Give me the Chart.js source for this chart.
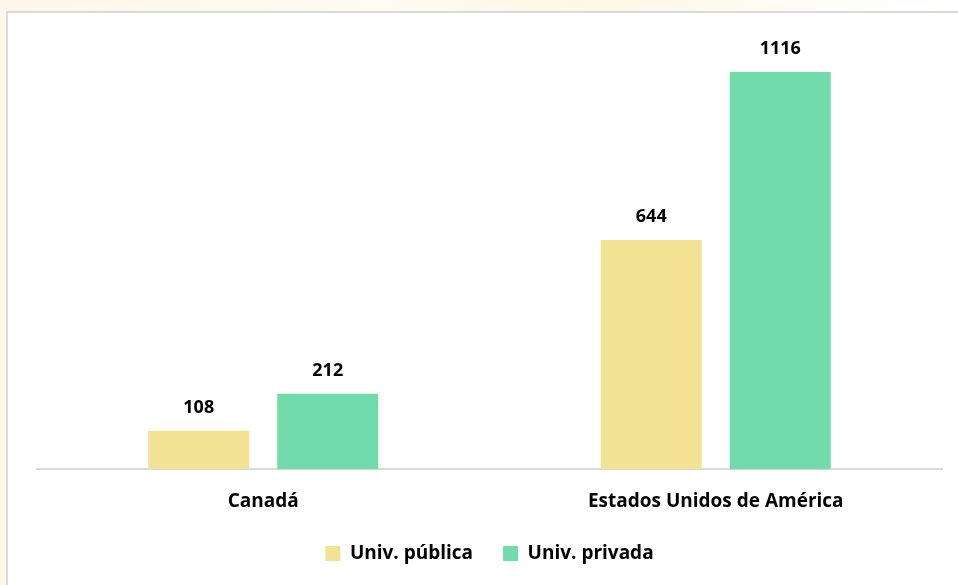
<!DOCTYPE html>
<html lang="es">
<head>
<meta charset="UTF-8" />
<title>Universidades</title>
<script src="https://cdn.jsdelivr.net/npm/chart.js@4.4.1/dist/chart.umd.min.js"></script>
<style>
  html, body { margin: 0; padding: 0; }
  body {
    width: 958px; height: 585px; overflow: hidden; position: relative;
    background: linear-gradient(90deg, #fdf6ea 0%, #fffaf2 40%, #fff7e6 60%, #ffffff 100%);
  }
  .frame {
    position: absolute; left: 6px; top: 11px; width: 1000px; height: 700px;
    background: #fff; border-left: 2px solid #d9d9d9; border-top: 2px solid #d9d9d9;
  }
  #wrap { position: absolute; left: 0; top: 0; width: 958px; height: 585px; }
</style>
</head>
<body>
<div class="frame"></div>
<div id="wrap"><canvas id="myChart"></canvas></div>
<script>
  const paises = ["Canadá", "Estados Unidos de América"];
  const publica = [108, 644];
  const privada = [212, 1116];
  const series = ["Univ. pública", "Univ. privada"];

  // etiquetas de valor encima de cada barra
  const valueLabels = {
    id: "valueLabels",
    afterDatasetsDraw(chart) {
      const ctx = chart.ctx;
      ctx.save();
      ctx.font = "bold 18px 'Open Sans'";
      ctx.fillStyle = "#000";
      ctx.textAlign = "center";
      ctx.textBaseline = "bottom";
      chart.data.datasets.forEach((ds, i) => {
        chart.getDatasetMeta(i).data.forEach((bar, j) => {
          ctx.fillText(ds.data[j], bar.x, bar.y - 14);
        });
      });
      ctx.restore();
    }
  };

  var ctx = document.getElementById("myChart").getContext("2d");
  var chart = new Chart(ctx, {
    type: "bar",
    data: {
      labels: paises,
      datasets: [
        { label: series[0], data: publica, backgroundColor: "#f2e394",
          barPercentage: 0.783, categoryPercentage: 0.57 },
        { label: series[1], data: privada, backgroundColor: "#72dbab",
          barPercentage: 0.783, categoryPercentage: 0.57 }
      ]
    },
    options: {
      responsive: true,
      maintainAspectRatio: false,
      animation: false,
      layout: { padding: { left: 37, right: 16, top: 24, bottom: 12 } },
      scales: {
        x: {
          grid: { display: false },
          border: { display: true, color: "#d9d9d9", width: 2 },
          ticks: { color: "#000", font: { family: "Open Sans", size: 19, weight: "bold" }, padding: 13 },
          afterFit: (scale) => { scale.height -= 12; }
        },
        y: { display: false, min: 0, max: 1251 }
      },
      plugins: {
        legend: {
          position: "bottom",
          labels: {
            color: "#000", boxWidth: 15, boxHeight: 15, padding: 30,
            font: { family: "Open Sans", size: 19, weight: "bold" }
          }
        },
        tooltip: { enabled: false }
      }
    },
    plugins: [valueLabels]
  });
</script>
</body>
</html>
